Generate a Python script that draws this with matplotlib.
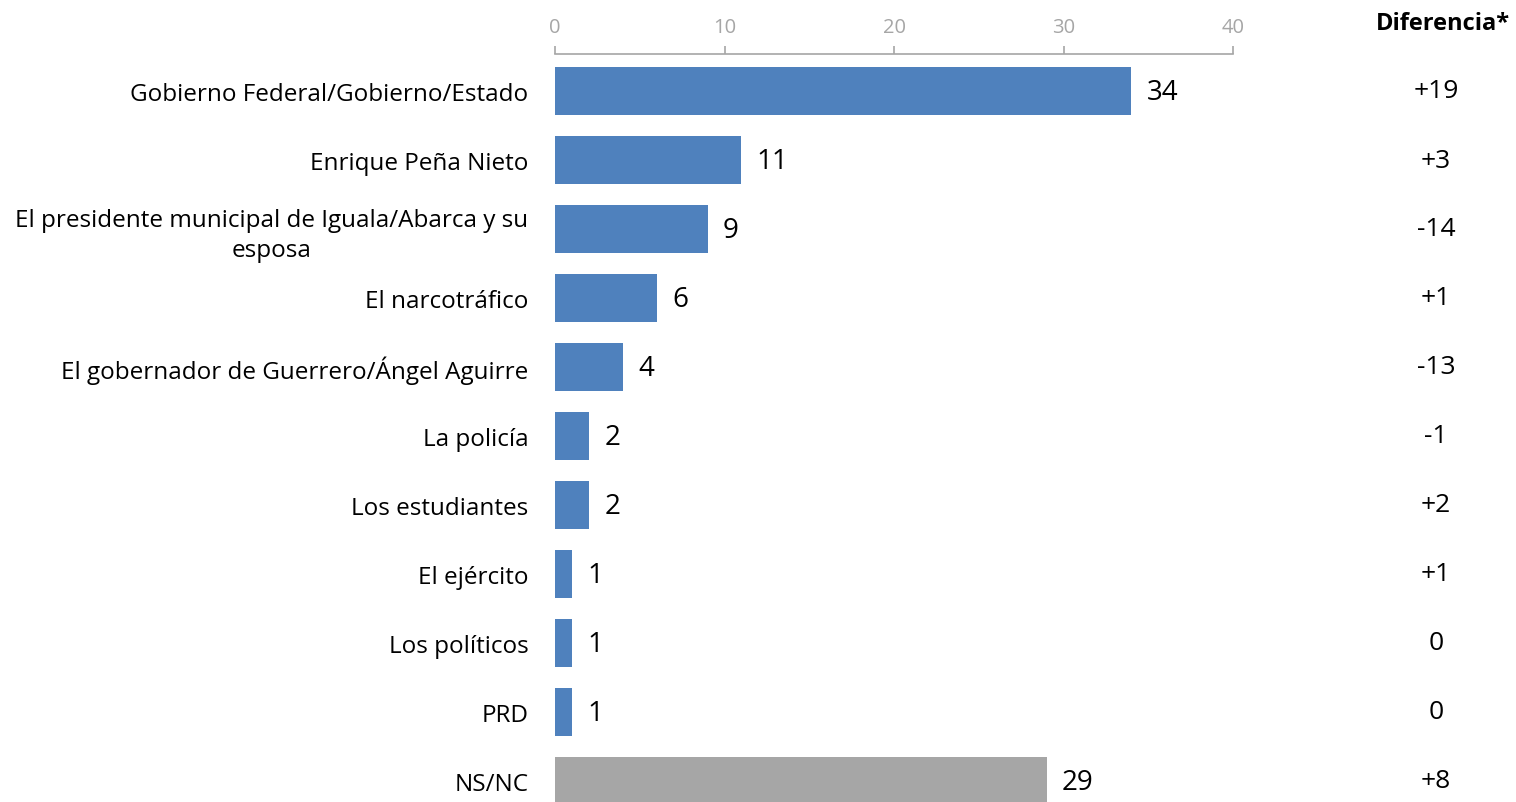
import numpy as np
import matplotlib.pyplot as plt

plt.rcParams['font.family'] = ['Open Sans', 'DejaVu Sans']

categorias = ['Gobierno Federal/Gobierno/Estado', 'Enrique Peña Nieto',
              'El presidente municipal de Iguala/Abarca y su\nesposa',
              'El narcotráfico', 'El gobernador de Guerrero/Ángel Aguirre',
              'La policía', 'Los estudiantes', 'El ejército', 'Los políticos',
              'PRD', 'NS/NC']
valores = [34, 11, 9, 6, 4, 2, 2, 1, 1, 1, 29]
diferencia = ['+19', '+3', '-14', '+1', '-13', '-1', '+2', '+1', '0', '0', '+8']

azul = '#4F81BD'
gris = '#A6A6A6'
colores = [azul] * (len(valores) - 1) + [gris]

fig = plt.figure(figsize=(15.16, 8.03), dpi=100)
ax = fig.add_axes([555 / 1516, 0, (1233 - 555) / 1516, 1 - 55 / 803])

y = np.arange(len(valores))
bars = ax.barh(y, valores, height=0.71, color=colores)

ax.set_xlim(0, 40)
ax.set_ylim((803 - 92) / 69, -37 / 69)
ax.set_xticks([0, 10, 20, 30, 40])
ax.xaxis.tick_top()
ax.tick_params(axis='x', colors='#A6A6A6', labelcolor='#A6A6A6', labelsize=14.5,
               length=6, width=1.2, pad=6)
ax.set_yticks(y)
ax.set_yticklabels(categorias, fontsize=17.5, color='black')
ax.tick_params(axis='y', length=0, pad=19)
for lbl in ax.get_yticklabels():
    lbl.set_multialignment('center')
    lbl.set_linespacing(1.35)

for s in ['right', 'bottom', 'left']:
    ax.spines[s].set_visible(False)
ax.spines['top'].set_color('#A6A6A6')
ax.spines['top'].set_linewidth(1.2)

# etiquetas de valor al lado de cada barra
for rect, v in zip(bars, valores):
    ax.text(rect.get_width() + 0.9, rect.get_y() + rect.get_height() / 2 + 0.02,
            str(v), va='center', ha='left', fontsize=20)

# columna de diferencia
xdif = 1436 / 1516
fig.text(1510 / 1516, 1 - 24 / 803, 'Diferencia*', ha='right', va='center',
         fontsize=17, fontweight='bold')
trans = ax.get_yaxis_transform().__class__(fig.transFigure, ax.transData)
for i, d in enumerate(diferencia):
    ax.text(xdif, i, d, transform=trans, ha='center', va='center', fontsize=19)

fig.savefig('out.png', dpi=100)
